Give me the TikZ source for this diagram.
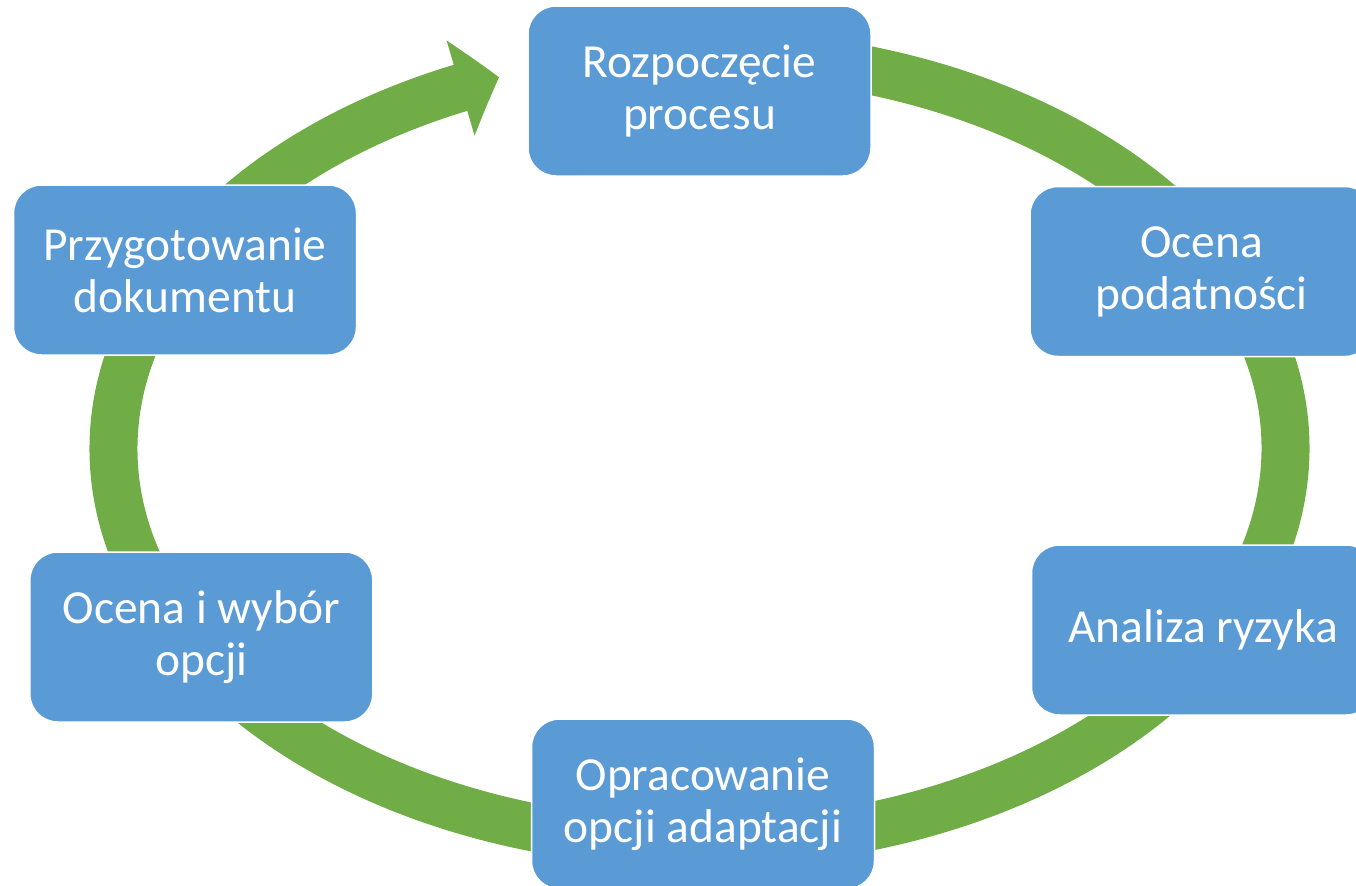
\documentclass[tikz,border=0pt]{standalone}
\usepackage{fontspec}
\setmainfont{Carlito}
\usepackage{tikz}
\usetikzlibrary{arrows.meta, bending, calc, backgrounds}
\definecolor{stepblue}{RGB}{91, 155, 213}
\definecolor{cyclegreen}{RGB}{112, 173, 71}
\tikzstyle{stepbox} = [rectangle, rounded corners=0.28cm, minimum width=3.43cm, minimum height=1.70cm, text centered, align=center, draw=white, line width=0.015cm, fill=stepblue, text=white, font=\fontsize{13.5}{14.8}\selectfont]
\tikzstyle{cyclearrow} = [draw=cyclegreen, line width=0.48cm, -{Triangle[length=0.4cm, width=0.97cm, bend]}]

\begin{document}
\begin{tikzpicture}
    \useasboundingbox (0, 0) rectangle (13.56, 8.85);

    % Centre of the cycle
    \coordinate (c) at (6.995, 4.365);

    % Steps
    \node[stepbox] (start) at (6.995, 7.94) {Rozpoczęcie\\procesu};
    \node[stepbox] (podatnosc) at (12.015, 6.135) {Ocena\\podatności};
    \node[stepbox] (ryzyko) at (12.03, 2.55) {Analiza ryzyka};
    \node[stepbox] (opcje) at (7.03, 0.81) {Opracowanie\\opcji adaptacji};
    \node[stepbox] (wybor) at (2.013, 2.48) {Ocena i wybór\\opcji};
    \node[stepbox] (dokument) at (1.85, 6.15) {Przygotowanie\\dokumentu};

    % Cycle ring
    \begin{scope}[on background layer]
        \draw[cyclearrow] ($(c)+(85:5.86 and 3.95)$) arc[start angle=85, end angle=-250, x radius=5.86cm, y radius=3.95cm];
    \end{scope}

\end{tikzpicture}
\end{document}
